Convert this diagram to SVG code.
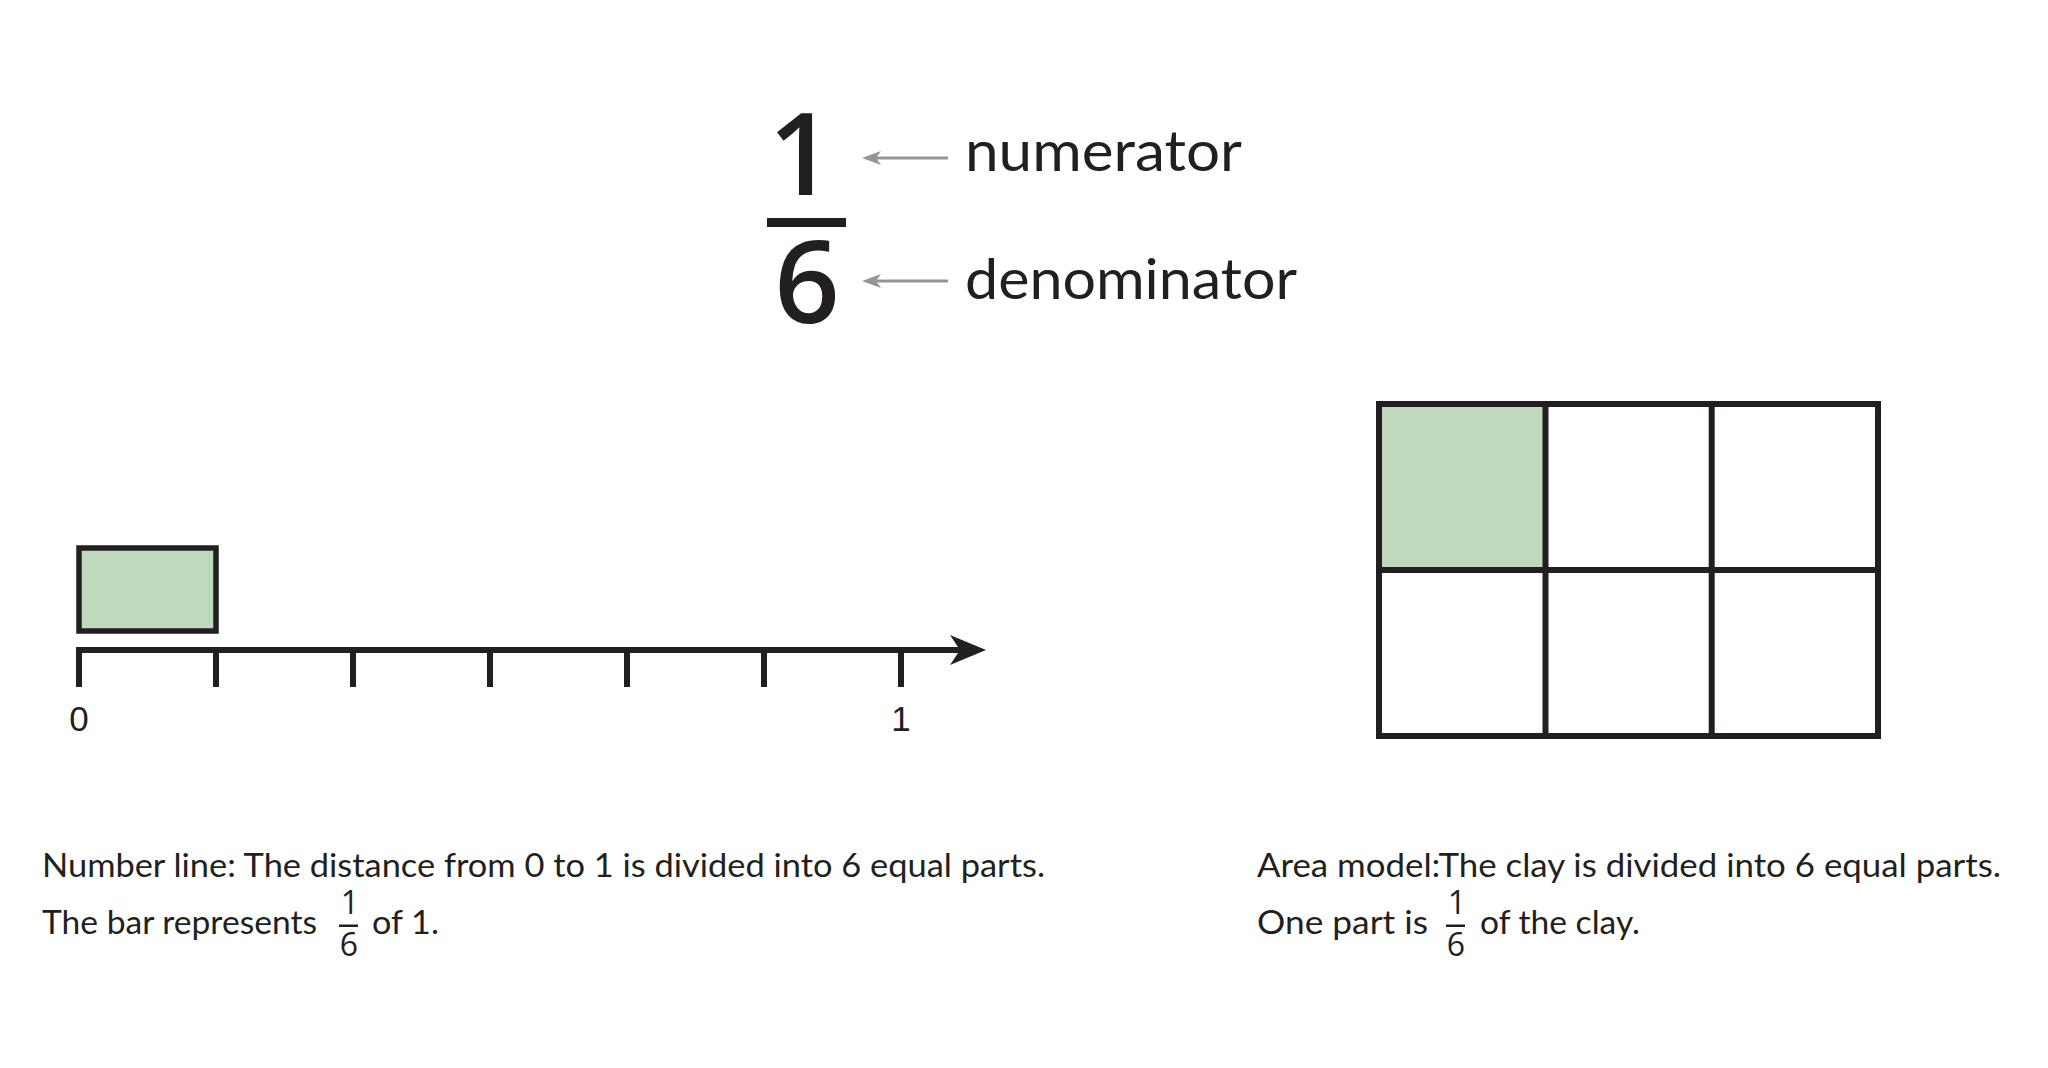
<svg xmlns="http://www.w3.org/2000/svg" width="2048" height="1068" viewBox="0 0 2048 1068">
  <style>
    .t { font-family: Lato, "Liberation Sans", sans-serif; fill: #231F20; }
    .big { font-family: "Open Sans", "Noto Sans", sans-serif; fill: #231F20; font-size: 114px; font-weight: 600; text-anchor: middle; }
    .lbl { font-family: "Liberation Sans", Arial, sans-serif; fill: #231F20; font-size: 35px; text-anchor: middle; }
    .ink { stroke: #231F20; fill: none; }
    .gray { stroke: #939598; stroke-width: 3; fill: none; }
    .frac { font-family: "Open Sans", Lato, sans-serif; fill: #231F20; text-anchor: middle; font-size: 32px; }
  </style>
  <rect width="2048" height="1068" fill="#FFFFFF"/>

  <g id="fraction">
    <text class="big" x="801" y="195">1</text>
    <rect x="767" y="218" width="79" height="9" fill="#231F20"/>
    <text class="big" x="807" y="323">6</text>
  </g>

  <g id="labels">
    <text class="t" x="965" y="171" font-size="57" textLength="277" lengthAdjust="spacingAndGlyphs">numerator</text>
    <text class="t" x="965" y="299" font-size="57" textLength="332" lengthAdjust="spacingAndGlyphs">denominator</text>
  </g>

  <g id="connectors">
    <line class="gray" x1="874" y1="158" x2="948" y2="158"/>
    <path d="M862,158 L881,151 L876,158 L881,165 Z" fill="#939598"/>
    <line class="gray" x1="874" y1="281" x2="948" y2="281"/>
    <path d="M862,281 L881,274 L876,281 L881,288 Z" fill="#939598"/>
  </g>

  <g id="number-line">
    <rect x="79" y="548" width="137" height="83" fill="#BED9BC" stroke="#231F20" stroke-width="5.5"/>
    <line class="ink" x1="76" y1="650" x2="962" y2="650" stroke-width="6"/>
    <path d="M986,650 L950,635 L960,650 L950,665 Z" fill="#231F20"/>
    <g class="ink" stroke-width="6">
      <line x1="79" y1="647" x2="79" y2="687"/>
      <line x1="216" y1="650" x2="216" y2="687"/>
      <line x1="353" y1="650" x2="353" y2="687"/>
      <line x1="490" y1="650" x2="490" y2="687"/>
      <line x1="627" y1="650" x2="627" y2="687"/>
      <line x1="764" y1="650" x2="764" y2="687"/>
      <line x1="901" y1="650" x2="901" y2="687"/>
    </g>
    <text class="lbl" x="79" y="731">0</text>
    <text class="lbl" x="901" y="731">1</text>
  </g>

  <g id="area-model">
    <rect x="1379" y="404" width="166" height="166" fill="#BED9BC"/>
    <rect class="ink" x="1379" y="404" width="499" height="332" stroke-width="6"/>
    <g class="ink" stroke-width="6">
      <line x1="1545.5" y1="404" x2="1545.5" y2="736"/>
      <line x1="1711.7" y1="404" x2="1711.7" y2="736"/>
      <line x1="1379" y1="570" x2="1878" y2="570"/>
    </g>
  </g>

  <g id="caption-left">
    <text class="t" x="42" y="877" font-size="33" textLength="1003" lengthAdjust="spacingAndGlyphs">Number line: The distance from 0 to 1 is divided into 6 equal parts.</text>
    <text class="t" x="42" y="934" font-size="33" textLength="275" lengthAdjust="spacingAndGlyphs">The bar represents</text>
    <text class="frac" x="350" y="914">1</text>
    <rect x="339" y="924.5" width="19" height="2.5" fill="#231F20"/>
    <text class="frac" x="349" y="956">6</text>
    <text class="t" x="372" y="934" font-size="33" textLength="67" lengthAdjust="spacingAndGlyphs">of 1.</text>
  </g>

  <g id="caption-right">
    <text class="t" x="1257" y="877" font-size="33" textLength="744" lengthAdjust="spacingAndGlyphs">Area model:The clay is divided into 6 equal parts.</text>
    <text class="t" x="1257" y="934" font-size="33" textLength="171" lengthAdjust="spacingAndGlyphs">One part is</text>
    <text class="frac" x="1457" y="914">1</text>
    <rect x="1446" y="924.5" width="19" height="2.5" fill="#231F20"/>
    <text class="frac" x="1456" y="956">6</text>
    <text class="t" x="1480" y="934" font-size="33" textLength="160" lengthAdjust="spacingAndGlyphs">of the clay.</text>
  </g>
</svg>
